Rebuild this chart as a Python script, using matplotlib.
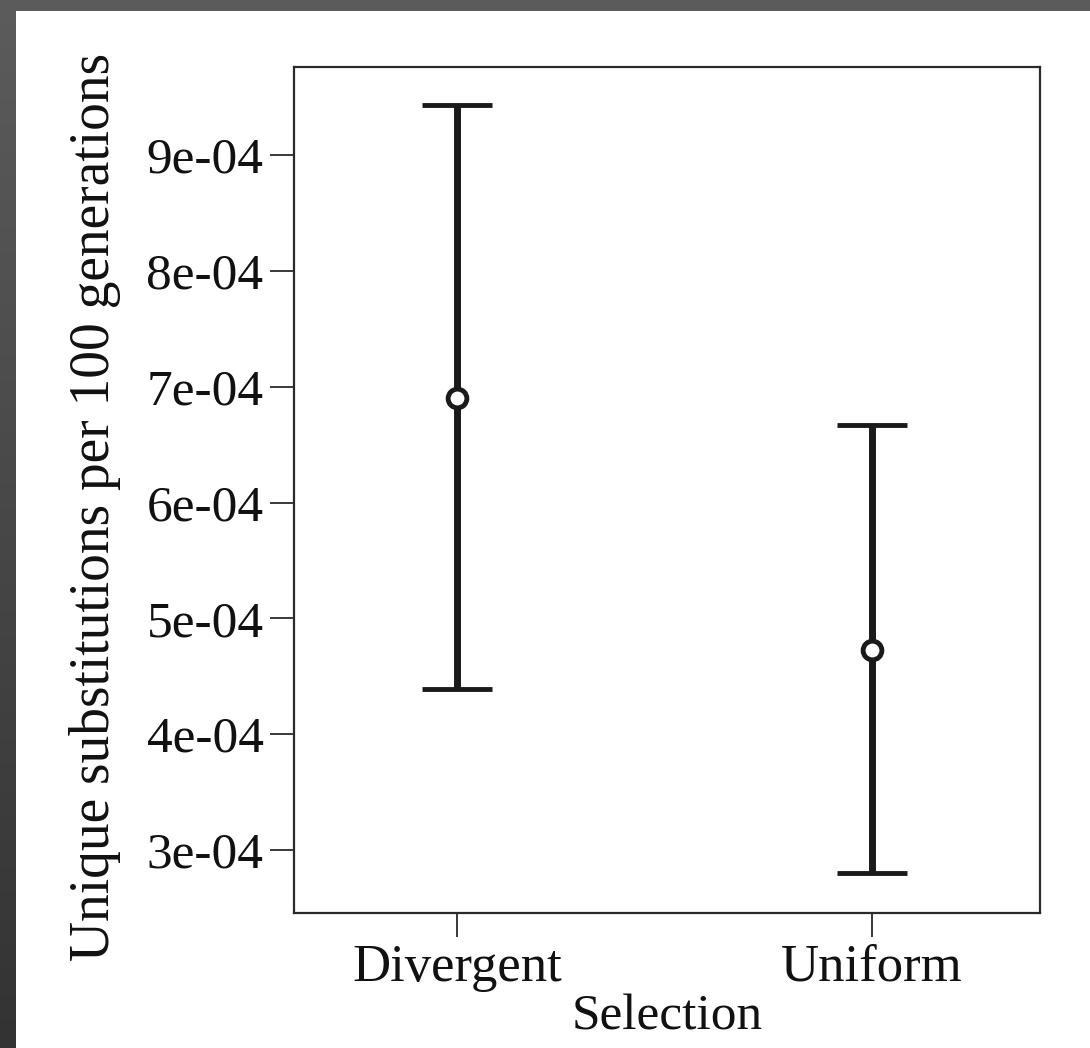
import numpy as np
import matplotlib
matplotlib.use("Agg")
import matplotlib.pyplot as plt
from matplotlib.patches import Rectangle

# Data
categories = ["Divergent", "Uniform"]
means = [6.90e-4, 4.73e-4]
upper = [9.43e-4, 6.67e-4]
lower = [4.39e-4, 2.80e-4]
ytick_values = [3e-4, 4e-4, 5e-4, 6e-4, 7e-4, 8e-4, 9e-4]
ytick_labels = ["3e-04", "4e-04", "5e-04", "6e-04", "7e-04", "8e-04", "9e-04"]

plt.rcParams["font.family"] = ["Liberation Serif", "DejaVu Serif"]

W, H = 1090, 1048
fig = plt.figure(figsize=(W / 100, H / 100), dpi=100)

# Dark frame with gradient behind a white page
bg = fig.add_axes([0, 0, 1, 1], zorder=-10)
grad = np.linspace(0.36, 0.20, 256).reshape(-1, 1)
bg.imshow(np.dstack([grad] * 3), aspect="auto", extent=[0, 1, 0, 1],
          interpolation="bilinear")
bg.add_patch(Rectangle((16 / W, 0), 1 - 16 / W, 1 - 11 / H,
                       facecolor="white", edgecolor="none"))
bg.set_xlim(0, 1)
bg.set_ylim(0, 1)
bg.axis("off")

left, right, top, bottom = 294, 1040, 67, 913
ax = fig.add_axes([left / W, 1 - bottom / H, (right - left) / W, (bottom - top) / H])
ax.set_facecolor("white")

x = np.arange(1, len(categories) + 1)
m = np.array(means)
yerr = [m - np.array(lower), np.array(upper) - m]
_, caps, bars = ax.errorbar(x, m, yerr=yerr, fmt="o", color="#1a1a1a", ecolor="#1a1a1a",
                            elinewidth=5, capsize=25, capthick=6,
                            markersize=13.5, markerfacecolor="white", markeredgewidth=3.5,
                            markeredgecolor="#1a1a1a", zorder=3)
for c in caps:
    c.set_solid_capstyle("round")

ax.set_xlim(0.607, 2.405)
ax.set_ylim(2.456e-4, 9.76e-4)
ax.set_xticks(x)
ax.set_xticklabels(categories)
ax.set_yticks(ytick_values)
ax.set_yticklabels(ytick_labels)

for s in ax.spines.values():
    s.set_linewidth(1.6)
    s.set_color("#2a2a2a")
ax.tick_params(axis="y", labelsize=37, length=17, width=1.3, color="#2a2a2a",
               pad=5, labelcolor="#111111")
ax.tick_params(axis="x", labelsize=38, length=17, width=1.3, color="#2a2a2a",
               pad=5, labelcolor="#111111")

ax.set_xlabel("Selection", fontsize=37, color="#111111", labelpad=2)
ax.set_ylabel("Unique substitutions per 100 generations", fontsize=40,
              color="#111111")
ax.yaxis.set_label_coords(-0.232, 0.48)

fig.savefig("out.png", dpi=100)
